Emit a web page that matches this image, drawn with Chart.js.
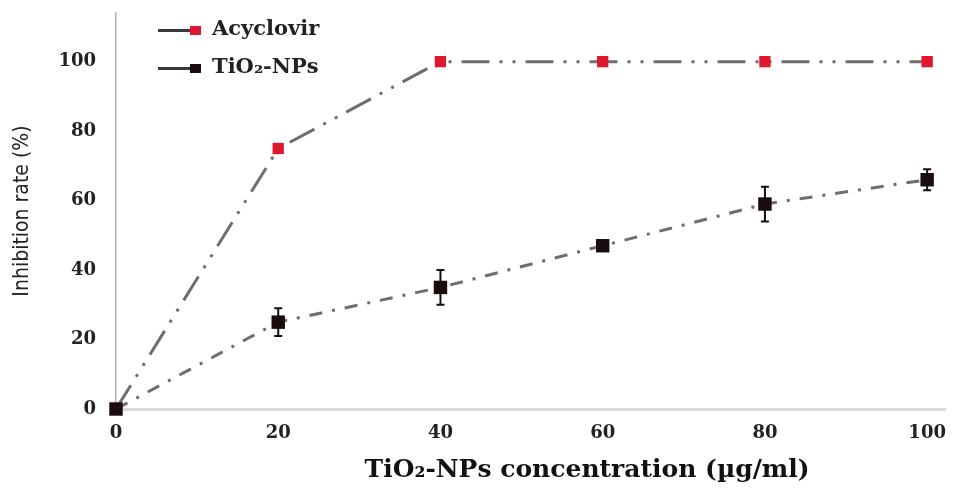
<!DOCTYPE html>
<html>
<head>
<meta charset="utf-8">
<script src="https://cdn.jsdelivr.net/npm/chart.js@4.4.1/dist/chart.umd.min.js"></script>
<style>
    body { margin: 0; background: #fff; }
    #wrap { position: relative; width: 959px; height: 488px; }
    #chart { display: block; }
    .legend { position: absolute; left: 158px; top: 0; font: bold 21px 'DejaVu Serif', serif; color: #222; }
    .legend .row { position: absolute; left: 0; white-space: nowrap; height: 20px; }
    .legend .line { position: absolute; left: 0; top: 9px; width: 34px; height: 3px; background: #3a3a3a; }
    .legend .box { position: absolute; left: 32px; top: 6px; width: 11px; height: 9px; }
    .legend .txt { position: absolute; left: 54px; top: -5px; }
</style>
</head>
<body>
<div id="wrap">
    <canvas id="chart" width="959" height="488"></canvas>
    <div class="legend">
        <div class="row" style="top:20px"><span class="line"></span><span class="box" style="background:#e0182d"></span><span class="txt">Acyclovir</span></div>
        <div class="row" style="top:58px"><span class="line"></span><span class="box" style="background:#1c0c0e"></span><span class="txt">TiO₂-NPs</span></div>
    </div>
</div>
<script>
const concentrations = [0, 20, 40, 60, 80, 100];
const acyclovir = [0, 75, 100, 100, 100, 100];
const tio2 = [0, 25, 35, 47, 59, 66];
const tio2Err = [0, 4, 5, 1.5, 5, 3];
const yTicks = [0, 20, 40, 60, 80, 100];

const serifBold = { family: "'DejaVu Serif', serif", weight: 'bold', size: 18 };

// barras de error para TiO2
const errorBars = {
    id: 'errorBars',
    afterDatasetsDraw(chart) {
        const { ctx, scales: { x, y } } = chart;
        ctx.save();
        ctx.strokeStyle = '#111';
        ctx.lineWidth = 2;
        tio2.forEach((v, i) => {
            const e = tio2Err[i];
            if (!e) return;
            const px = x.getPixelForValue(concentrations[i]);
            const top = y.getPixelForValue(v + e);
            const bot = y.getPixelForValue(v - e);
            ctx.beginPath();
            ctx.moveTo(px, top); ctx.lineTo(px, bot);
            ctx.moveTo(px - 4, top); ctx.lineTo(px + 4, top);
            ctx.moveTo(px - 4, bot); ctx.lineTo(px + 4, bot);
            ctx.stroke();
        });
        ctx.restore();
    }
};

new Chart(document.getElementById('chart'), {
    type: 'line',
    data: {
        datasets: [
            {
                label: 'Acyclovir',
                data: concentrations.map((c, i) => ({ x: c, y: acyclovir[i] })),
                borderColor: '#6e6e6e',
                borderWidth: 3,
                borderDash: [28, 10, 3, 10, 3, 10],
                pointStyle: 'rect',
                pointRadius: 8,
                pointBackgroundColor: '#e0182d',
                pointBorderColor: '#e0182d',
                pointBorderWidth: 0,
                tension: 0,
                clip: false,
                order: 1
            },
            {
                label: 'TiO₂-NPs',
                data: concentrations.map((c, i) => ({ x: c, y: tio2[i] })),
                borderColor: '#6e6e6e',
                borderWidth: 3,
                borderDash: [13, 10, 3, 10],
                pointStyle: 'rect',
                pointRadius: 9.5,
                pointBackgroundColor: '#1c0c0e',
                pointBorderColor: '#1c0c0e',
                pointBorderWidth: 0,
                tension: 0,
                clip: false,
                order: 0
            }
        ]
    },
    options: {
        responsive: false,
        animation: false,
        layout: { padding: { top: 13, right: 14, left: 0, bottom: 0 } },
        plugins: {
            legend: { display: false },
            tooltip: { enabled: false }
        },
        scales: {
            x: {
                type: 'linear',
                min: 0,
                max: 102.2,
                afterBuildTicks: (s) => { s.ticks = concentrations.map(v => ({ value: v })); },
                afterFit: (s) => { s.height = 79; s.paddingLeft = 0; s.paddingRight = 0; },
                grid: { display: false, drawTicks: false },
                border: { display: true, color: '#dcdcdc', width: 3 },
                ticks: { font: serifBold, color: '#222', padding: 14 },
                title: {
                    display: true,
                    // espacios iniciales para desplazar el título a la derecha como en el original
                    text: '             TiO₂-NPs concentration (µg/ml)',
                    font: { family: "'DejaVu Serif', serif", weight: 'bold', size: 25 },
                    color: '#111',
                    padding: { top: 0, bottom: 3 }
                }
            },
            y: {
                min: 0,
                max: 114,
                afterBuildTicks: (s) => { s.ticks = yTicks.map(v => ({ value: v })); },
                afterFit: (s) => { s.width = 116; s.paddingTop = 0; s.paddingBottom = 0; },
                grid: { display: false, drawTicks: false },
                border: { display: true, color: '#b0b0b0', width: 1.5 },
                ticks: { font: serifBold, color: '#222', padding: 20 },
                title: {
                    display: true,
                    text: 'Inhibition rate (%)',
                    font: { family: "'Liberation Sans Narrow', 'DejaVu Sans Condensed', sans-serif", size: 21 },
                    color: '#222',
                    padding: { top: 10, bottom: 0 }
                }
            }
        }
    },
    plugins: [errorBars]
});
</script>
</body>
</html>
